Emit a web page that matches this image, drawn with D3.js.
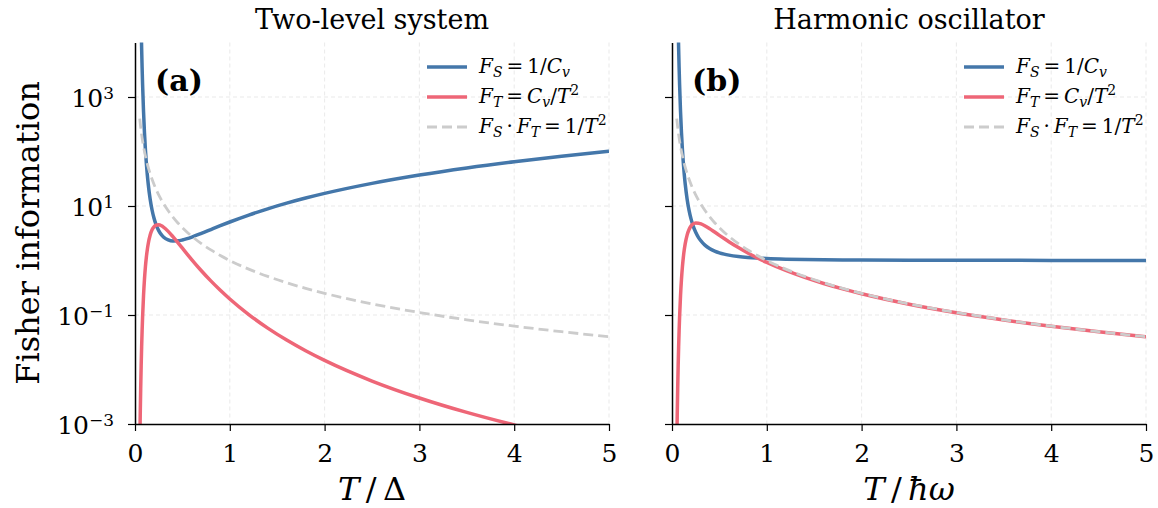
<!DOCTYPE html>
<html>
<head>
<meta charset="utf-8">
<script src="https://cdn.jsdelivr.net/npm/d3@7"></script>
<style>
  body { margin: 0; background: #fff; }
  text { font-family: "DejaVu Serif", serif; }
</style>
</head>
<body>
<div id="chart"></div>
<script>
var svgWidth = 1158;
var svgHeight = 508;

var temps = [0.05, 0.055, 0.06, 0.065, 0.07, 0.075, 0.08, 0.09, 0.10, 0.11, 0.12, 0.13, 0.14, 0.16, 0.18,
    0.20, 0.22, 0.25, 0.28, 0.30, 0.35, 0.40, 0.45, 0.50, 0.55, 0.60, 0.70, 0.80, 0.90, 1.0,
    1.2, 1.4, 1.6, 1.8, 2.0, 2.5, 3.0, 3.5, 4.0, 4.5, 5.0];

// (a) two-level system
var twoLevelFS = [1.213e6, 2.383e5, 6.23e4, 2.030e4, 7844, 3473, 1717, 541.9, 220.3, 107.4, 59.94, 37.07, 24.84, 13.31, 8.445,
    6.017, 4.657, 3.539, 2.947, 2.706, 2.385, 2.282, 2.296, 2.381, 2.518, 2.694, 3.142, 3.697, 4.347, 5.086,
    6.819, 8.883, 11.27, 13.99, 17.02, 26.01, 37.01, 50.01, 65.00, 82.00, 101.0];
var twoLevelFT = [3.298e-4, 1.387e-3, 4.458e-3, 0.01166, 0.02602, 0.05119, 0.09098, 0.2278, 0.4540, 0.7695, 1.159, 1.596, 2.054, 2.934, 3.655,
    4.155, 4.437, 4.522, 4.328, 4.106, 3.423, 2.738, 2.151, 1.680, 1.313, 1.031, 0.6495, 0.4226, 0.2840, 0.1966,
    0.1018, 0.05743, 0.03465, 0.02207, 0.01469, 0.006151, 0.003002, 0.001632, 0.0009615, 0.0006022, 0.0003960];

// (b) harmonic oscillator
var oscFS = [1.213e6, 2.383e5, 6.23e4, 2.030e4, 7844, 3473, 1717, 541.9, 220.2, 107.35, 59.88, 36.97, 24.76, 13.21, 8.315,
    5.857, 4.463, 3.289, 2.634, 2.346, 1.895, 1.642, 1.486, 1.381, 1.308, 1.254, 1.182, 1.137, 1.107, 1.086,
    1.059, 1.043, 1.033, 1.026, 1.021, 1.013, 1.009, 1.007, 1.005, 1.004, 1.003];
var oscFT = [3.298e-4, 1.387e-3, 4.458e-3, 0.01166, 0.02602, 0.05119, 0.09098, 0.2278, 0.4540, 0.7698, 1.160, 1.601, 2.061, 2.957, 3.712,
    4.269, 4.629, 4.865, 4.843, 4.736, 4.308, 3.806, 3.324, 2.896, 2.528, 2.215, 1.727, 1.374, 1.115, 0.9207,
    0.6556, 0.4891, 0.3782, 0.3008, 0.2449, 0.1579, 0.1101, 0.08108, 0.06218, 0.04918, 0.03987];

// bound F_S * F_T = 1/T^2 (same for both panels)
var productBound = [400, 330.58, 277.78, 236.69, 204.08, 177.78, 156.25, 123.46, 100, 82.645, 69.444, 59.172, 51.020, 39.0625, 30.864,
    25, 20.661, 16, 12.755, 11.111, 8.1633, 6.25, 4.9383, 4, 3.3058, 2.7778, 2.0408, 1.5625, 1.2346, 1,
    0.69444, 0.5102, 0.39063, 0.30864, 0.25, 0.16, 0.11111, 0.081633, 0.0625, 0.049383, 0.04];

var xTicks = [0, 1, 2, 3, 4, 5];
var yTicks = [1e-3, 1e-1, 1e1, 1e3];
var yTickExp = ["\u22123", "\u22121", "1", "3"];

var colors = { fs: "#4477aa", ft: "#ee6677", bound: "#cccccc" };

var plotTop = 42.5, plotBottom = 424;

var panels = [
    { left: 135, right: 609, title: "Two-level system", tag: "(a)", fs: twoLevelFS, ft: twoLevelFT, xlab: "delta", yLabels: true },
    { left: 672, right: 1146, title: "Harmonic oscillator", tag: "(b)", fs: oscFS, ft: oscFT, xlab: "hw", yLabels: false }
];

var svg = d3.select("#chart")
    .append("svg")
    .attr("width", svgWidth)
    .attr("height", svgHeight);

var mathFont = "'Liberation Serif', 'DejaVu Serif', serif";
var subSize = "14px";

// legend label builders (math text with sub/superscripts)
function sub(t, s) {
    t.append("tspan").attr("font-style", "italic").attr("font-size", subSize).attr("dy", 4).text(s);
}
function labelFS(t) {
    t.append("tspan").attr("font-style", "italic").text("F");
    sub(t, "S");
    t.append("tspan").attr("dy", -4).text("\u2009=\u20091/");
    t.append("tspan").attr("font-style", "italic").text("C");
    sub(t, "v");
}
function labelFT(t) {
    t.append("tspan").attr("font-style", "italic").text("F");
    sub(t, "T");
    t.append("tspan").attr("dy", -4).text("\u2009=\u2009");
    t.append("tspan").attr("font-style", "italic").text("C");
    sub(t, "v");
    t.append("tspan").attr("dy", -4).text("/");
    t.append("tspan").attr("font-style", "italic").text("T");
    t.append("tspan").attr("font-size", subSize).attr("dy", -8).text("2");
}
function labelBound(t) {
    t.append("tspan").attr("font-style", "italic").text("F");
    sub(t, "S");
    t.append("tspan").attr("dy", -4).text("\u2009\u00b7\u2009");
    t.append("tspan").attr("font-style", "italic").text("F");
    sub(t, "T");
    t.append("tspan").attr("dy", -4).text("\u2009=\u20091/");
    t.append("tspan").attr("font-style", "italic").text("T");
    t.append("tspan").attr("font-size", subSize).attr("dy", -8).text("2");
}

panels.forEach(function (p, i) {
    var x = d3.scaleLinear().domain([0, 5]).range([p.left, p.right]);
    var y = d3.scaleLog().domain([1e-3, 1e4]).range([plotBottom, plotTop]);

    var g = svg.append("g");

    // grid
    g.append("g").selectAll("line")
        .data(xTicks.slice(1))
        .enter().append("line")
        .attr("x1", d => x(d)).attr("x2", d => x(d))
        .attr("y1", plotTop).attr("y2", plotBottom)
        .attr("stroke", "#e3e3e3").attr("stroke-width", 0.8)
        .attr("stroke-dasharray", "4,3");
    g.append("g").selectAll("line")
        .data(yTicks.slice(1))
        .enter().append("line")
        .attr("x1", p.left).attr("x2", p.right)
        .attr("y1", d => y(d)).attr("y2", d => y(d))
        .attr("stroke", "#e3e3e3").attr("stroke-width", 0.8)
        .attr("stroke-dasharray", "4,3");

    // clip
    svg.append("clipPath").attr("id", "clip" + i)
        .append("rect")
        .attr("x", p.left).attr("y", plotTop)
        .attr("width", p.right - p.left).attr("height", plotBottom - plotTop);

    var line = d3.line()
        .x((d, j) => x(temps[j]))
        .y(d => y(d))
        .curve(d3.curveMonotoneX);

    var curves = g.append("g").attr("clip-path", "url(#clip" + i + ")");

    curves.append("path")
        .attr("d", line(p.fs))
        .attr("fill", "none")
        .attr("stroke", colors.fs)
        .attr("stroke-width", 3.5);

    curves.append("path")
        .attr("d", line(p.ft))
        .attr("fill", "none")
        .attr("stroke", colors.ft)
        .attr("stroke-width", 3.5);

    curves.append("path")
        .attr("d", line(productBound))
        .attr("fill", "none")
        .attr("stroke", colors.bound)
        .attr("stroke-width", 2.8)
        .attr("stroke-dasharray", "10,5");

    // axes
    var xAxis = g.append("g")
        .attr("transform", `translate(0, ${plotBottom})`)
        .call(d3.axisBottom(x).tickValues(xTicks).tickSize(7).tickSizeOuter(0).tickPadding(13)
            .tickFormat(d3.format("d")));
    xAxis.selectAll("text").attr("font-size", "25px").attr("font-family", "DejaVu Serif").attr("fill", "#000");

    var yAxis = g.append("g")
        .attr("transform", `translate(${p.left}, 0)`)
        .call(d3.axisLeft(y).tickValues(yTicks).tickSize(7).tickSizeOuter(0).tickPadding(14)
            .tickFormat(""));

    [xAxis, yAxis].forEach(function (ax) {
        ax.select(".domain").attr("stroke", "#000").attr("stroke-width", 1.5);
        ax.selectAll(".tick line").attr("stroke", "#000").attr("stroke-width", 1.2);
    });

    if (p.yLabels) {
        yAxis.selectAll(".tick text")
            .attr("font-size", "25px")
            .attr("font-family", "DejaVu Serif")
            .attr("fill", "#000")
            .attr("dy", "0.38em")
            .each(function (d, j) {
                var t = d3.select(this);
                t.append("tspan").text("10");
                t.append("tspan").attr("font-size", "17px").attr("dy", -8).text(yTickExp[j]);
            });
    }

    // title
    g.append("text")
        .attr("x", (p.left + p.right) / 2)
        .attr("y", 29)
        .attr("text-anchor", "middle")
        .attr("font-size", "27px")
        .text(p.title);

    // panel tag
    g.append("text")
        .attr("x", p.left + 20)
        .attr("y", 91)
        .attr("font-size", "30px")
        .attr("font-weight", "bold")
        .text(p.tag);

    // x label
    var xl = g.append("text")
        .attr("x", (p.left + p.right) / 2)
        .attr("y", 500)
        .attr("text-anchor", "middle")
        .attr("font-size", "32px")
        .attr("font-family", mathFont);
    xl.append("tspan").attr("font-style", "italic").text("T");
    xl.append("tspan").text("\u2009/\u2009");
    if (p.xlab === "delta") {
        xl.append("tspan").text("\u0394");
    } else {
        xl.append("tspan").attr("font-style", "italic").text("\u0127\u03c9");
    }

    // legend
    var legendItems = [
        { color: colors.fs, dash: null, width: 3.5, build: labelFS },
        { color: colors.ft, dash: null, width: 3.5, build: labelFT },
        { color: colors.bound, dash: "10,5", width: 3, build: labelBound }
    ];
    var lg = g.append("g").attr("transform", `translate(${p.left + 292}, 67)`);
    legendItems.forEach(function (item, k) {
        var row = lg.append("g").attr("transform", `translate(0, ${k * 30})`);
        row.append("line")
            .attr("x1", 0).attr("x2", 40)
            .attr("stroke", item.color)
            .attr("stroke-width", item.width)
            .attr("stroke-dasharray", item.dash);
        var t = row.append("text")
            .attr("x", 52).attr("y", 6)
            .attr("font-size", "20px")
            .attr("font-family", mathFont);
        item.build(t);
    });
});

// shared y label
svg.append("text")
    .attr("transform", "translate(39, 233) rotate(-90)")
    .attr("text-anchor", "middle")
    .attr("font-size", "32px")
    .text("Fisher information");
</script>
</body>
</html>
